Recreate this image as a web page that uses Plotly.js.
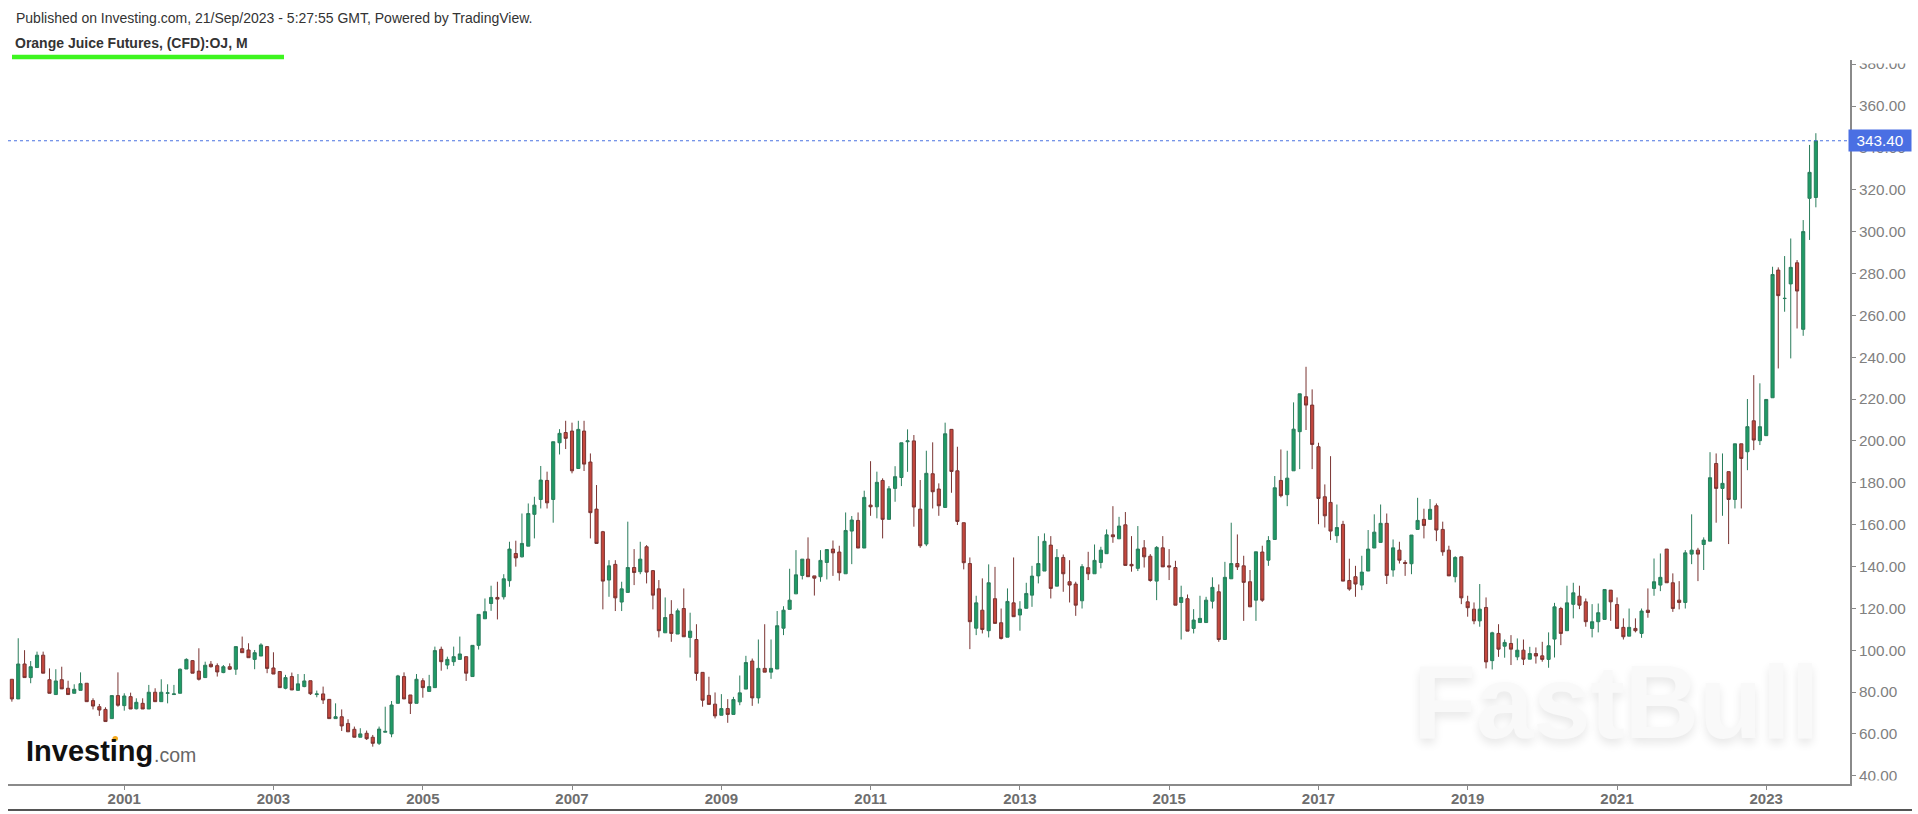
<!DOCTYPE html>
<html>
<head>
<meta charset="utf-8">
<title>Orange Juice Futures</title>
<script src="https://cdn.plot.ly/plotly-3.0.1.min.js"></script>
<style>
  html, body { margin: 0; padding: 0; background: #fff; }
  #chart { width: 1918px; height: 814px; }
</style>
</head>
<body>
<div id="chart"></div>
<script>
const months = [
  "1999-07","1999-08","1999-09","1999-10","1999-11","1999-12",
  "2000-01","2000-02","2000-03","2000-04","2000-05","2000-06","2000-07","2000-08","2000-09","2000-10","2000-11","2000-12",
  "2001-01","2001-02","2001-03","2001-04","2001-05","2001-06","2001-07","2001-08","2001-09","2001-10","2001-11","2001-12",
  "2002-01","2002-02","2002-03","2002-04","2002-05","2002-06","2002-07","2002-08","2002-09","2002-10","2002-11","2002-12",
  "2003-01","2003-02","2003-03","2003-04","2003-05","2003-06","2003-07","2003-08","2003-09","2003-10","2003-11","2003-12",
  "2004-01","2004-02","2004-03","2004-04","2004-05","2004-06","2004-07","2004-08","2004-09","2004-10","2004-11","2004-12",
  "2005-01","2005-02","2005-03","2005-04","2005-05","2005-06","2005-07","2005-08","2005-09","2005-10","2005-11","2005-12",
  "2006-01","2006-02","2006-03","2006-04","2006-05","2006-06","2006-07","2006-08","2006-09","2006-10","2006-11","2006-12",
  "2007-01","2007-02","2007-03","2007-04","2007-05","2007-06","2007-07","2007-08","2007-09","2007-10","2007-11","2007-12",
  "2008-01","2008-02","2008-03","2008-04","2008-05","2008-06","2008-07","2008-08","2008-09","2008-10","2008-11","2008-12",
  "2009-01","2009-02","2009-03","2009-04","2009-05","2009-06","2009-07","2009-08","2009-09","2009-10","2009-11","2009-12",
  "2010-01","2010-02","2010-03","2010-04","2010-05","2010-06","2010-07","2010-08","2010-09","2010-10","2010-11","2010-12",
  "2011-01","2011-02","2011-03","2011-04","2011-05","2011-06","2011-07","2011-08","2011-09","2011-10","2011-11","2011-12",
  "2012-01","2012-02","2012-03","2012-04","2012-05","2012-06","2012-07","2012-08","2012-09","2012-10","2012-11","2012-12",
  "2013-01","2013-02","2013-03","2013-04","2013-05","2013-06","2013-07","2013-08","2013-09","2013-10","2013-11","2013-12",
  "2014-01","2014-02","2014-03","2014-04","2014-05","2014-06","2014-07","2014-08","2014-09","2014-10","2014-11","2014-12",
  "2015-01","2015-02","2015-03","2015-04","2015-05","2015-06","2015-07","2015-08","2015-09","2015-10","2015-11","2015-12",
  "2016-01","2016-02","2016-03","2016-04","2016-05","2016-06","2016-07","2016-08","2016-09","2016-10","2016-11","2016-12",
  "2017-01","2017-02","2017-03","2017-04","2017-05","2017-06","2017-07","2017-08","2017-09","2017-10","2017-11","2017-12",
  "2018-01","2018-02","2018-03","2018-04","2018-05","2018-06","2018-07","2018-08","2018-09","2018-10","2018-11","2018-12",
  "2019-01","2019-02","2019-03","2019-04","2019-05","2019-06","2019-07","2019-08","2019-09","2019-10","2019-11","2019-12",
  "2020-01","2020-02","2020-03","2020-04","2020-05","2020-06","2020-07","2020-08","2020-09","2020-10","2020-11","2020-12",
  "2021-01","2021-02","2021-03","2021-04","2021-05","2021-06","2021-07","2021-08","2021-09","2021-10","2021-11","2021-12",
  "2022-01","2022-02","2022-03","2022-04","2022-05","2022-06","2022-07","2022-08","2022-09","2022-10","2022-11","2022-12",
  "2023-01","2023-02","2023-03","2023-04","2023-05","2023-06","2023-07","2023-08","2023-09",
];

const opens = [
  86.1, 76.7, 93.4, 86.9, 91.7, 97.6,
  85.9, 78.8, 85.9, 81.8, 79.4, 80.8, 84.2, 75.9, 73, 71.7, 67.3, 78.3,
  73.5, 77.8, 72, 74.6, 71.9, 79.9, 75.4, 79.4, 78.8, 79.4, 91, 95,
  90, 86.9, 93.3, 92.6, 89.3, 92.1, 90.9, 100.7, 100.1, 95.6, 97.2, 101.7,
  91.5, 89.8, 81.8, 87.4, 80.8, 82.6, 85.4, 78.8, 79.1, 76.5, 67.3, 68.2,
  65, 62.2, 58.4, 60.3, 58.4, 55.5, 60.8, 60, 74.6, 87.4, 78.6, 74.6,
  85.4, 80.3, 82.1, 100.4, 92.9, 94.5, 95.6, 96.9, 87.4, 102.3, 115, 122.3,
  125.2, 125.5, 133.2, 146.2, 144.6, 149.7, 164.9, 172, 181.1, 172, 199.1, 204,
  204.7, 186.8, 204.7, 189.9, 167.4, 156.6, 133.5, 141, 123, 127.6, 139.5, 137.5,
  149.4, 138, 129.3, 108.3, 117.1, 107.7, 119.9, 106.1, 105.1, 89.4, 78.4, 74.2,
  68.9, 72.1, 69.3, 75.3, 81.4, 94.8, 77.2, 91.3, 89.5, 91, 110.5, 119.5,
  126.9, 135.7, 143.5, 135.5, 135.1, 141.9, 148.3, 146.9, 136.5, 156.9, 162, 148.8,
  169.3, 168.5, 181.1, 162.5, 177.3, 182.5, 199.6, 200, 167.4, 150.7, 184.3, 177,
  168.2, 205.5, 185.7, 160.9, 141.4, 110.5, 119.1, 109.3, 124.6, 113.1, 106.2, 122.6,
  116.8, 120, 126.3, 135.5, 137.8, 150.2, 130.6, 144.3, 132.7, 131.6, 123.6, 139.4,
  136.5, 141.9, 146.1, 155.1, 153.2, 159.9, 141, 139.1, 148.9, 144.9, 133, 148.9,
  140.3, 139.5, 122.8, 124.6, 110.4, 113.2, 113.2, 123.4, 127.9, 105.1, 134.1, 141.4,
  140.3, 132.7, 123.9, 146.9, 143, 152.9, 181.1, 174.3, 185.7, 204.4, 221.1, 217.1,
  197.2, 173.3, 170.6, 154.7, 160.1, 133.3, 135.1, 131.1, 137.8, 148.8, 151.5, 160.6,
  138.3, 147.8, 141.9, 141.3, 157.7, 162.5, 162.5, 169, 157.7, 147.8, 135.1, 144.6,
  123.1, 119.6, 114, 120.4, 95, 108, 101.9, 103.2, 96.8, 100, 95.7, 98.4,
  97.3, 95.6, 105.3, 119.9, 109.3, 121.9, 125.8, 123.1, 110.4, 113.6, 114.7, 128.7,
  121.8, 110.9, 106.7, 110.4, 108, 119.1, 129.5, 131.1, 148.3, 132.2, 123.9, 122.8,
  145.9, 147.8, 150.5, 152.1, 189.2, 177.3, 185.3, 172, 198.6, 194.8, 209.6, 200.1,
  202.5, 220.6, 281.6, 268, 275, 285.1, 253.3, 315.9, 316.3,
];

const highs = [
  86.1, 105.7, 100, 94.8, 99.3, 99.3,
  91.3, 90.9, 92.1, 85.4, 83.7, 89.4, 84.2, 77, 74.3, 72.7, 78.3, 89.4,
  79.4, 79.7, 77, 77, 83.4, 81.8, 86.1, 83.7, 83.4, 91.3, 96.1, 95.3,
  100.9, 94.5, 94.8, 93.7, 92.9, 93.7, 101.7, 106.5, 103.3, 100.1, 103.3, 102,
  99, 89.8, 88.2, 89.3, 88.6, 88.6, 85.4, 80.7, 82.6, 76.5, 74.6, 71.7,
  67, 63.5, 62.7, 61.6, 59.5, 63.5, 73, 75.7, 88.2, 89.4, 78.6, 88.6,
  86.6, 88.2, 101.7, 101.7, 96.9, 101.7, 106.5, 96.9, 102.3, 117.1, 124.7, 130.8,
  132.7, 136.3, 151.8, 152.3, 165.3, 170.1, 173.3, 188, 185.3, 199.6, 205.6, 209.6,
  208.7, 209.6, 209.6, 194, 178.9, 157, 143, 143, 132.7, 161.4, 148.3, 151.8,
  150.2, 138.3, 133.5, 125.2, 123.9, 119.9, 129.5, 117.9, 112.4, 89.4, 87.3, 79.8,
  79, 76.6, 77.7, 87.9, 97.3, 96, 105.1, 112.4, 105.1, 118.7, 121, 138.9,
  147.8, 143.5, 153.9, 135.5, 147.8, 148.1, 152.4, 149.9, 165.8, 164.1, 165.8, 176.2,
  190.3, 185.3, 182.1, 178.4, 187.9, 199.1, 205.5, 202.8, 181.3, 195.3, 199.3, 179.7,
  208.7, 205.5, 197.2, 160.9, 144.3, 126, 134.3, 141, 139.8, 119.9, 129.5, 144.3,
  123.4, 132.2, 140.3, 154.5, 155.8, 154.5, 148.3, 145.7, 143, 132.7, 141.1, 147,
  150.5, 149.4, 157.7, 168.8, 163.7, 166, 154.5, 159.3, 152.6, 145.9, 149.7, 154.5,
  148.3, 142.7, 130.8, 126.6, 119.6, 126, 125.5, 134.8, 131.4, 142.2, 160.9, 155.3,
  145.1, 138.3, 147, 149.9, 154.5, 183.2, 195.9, 195.3, 218.4, 222.5, 235.4, 224.6,
  199.1, 179.2, 192.7, 169.6, 161.8, 143.7, 140.3, 145.1, 157.4, 164.9, 169.6, 165.3,
  152.9, 151.8, 143, 155, 172.8, 167.6, 172.2, 170.1, 161.4, 149.9, 144.9, 144.6,
  126, 122.8, 131.6, 125.2, 108.8, 112.4, 105.1, 107.2, 105.6, 105.1, 101.6, 101.3,
  104, 108.5, 122.6, 120.7, 130.8, 132.2, 130.8, 124.7, 122, 122.3, 129, 128.7,
  125.2, 115.2, 119.9, 115.2, 119.9, 129.5, 143.8, 146.2, 148.3, 136.7, 133, 147.8,
  164.9, 148.9, 153.9, 194.6, 194, 194, 185.3, 198.6, 198.6, 220, 231.4, 227.5,
  219.8, 283.2, 282.9, 288.3, 296.7, 286.4, 305.5, 341.4, 347,
];

const lows = [
  75.4, 76.7, 86.9, 84.2, 91.7, 89,
  79.4, 78.8, 81.5, 78.8, 79.4, 80.8, 75.4, 71.7, 68.6, 65.9, 67.3, 73,
  71.1, 71.9, 71.7, 71.9, 71.9, 75.4, 75.4, 74.6, 78.8, 79.4, 91, 89,
  85.5, 86.9, 91.7, 87.4, 89, 90.5, 88.2, 98.8, 96.4, 90.9, 97.2, 89,
  88.6, 82.1, 81.3, 81, 80.8, 82.3, 78.6, 77.5, 74.3, 67.3, 67.3, 61.4,
  61, 58.4, 58.4, 57.1, 53.9, 54.7, 60.8, 58.4, 74.6, 76.7, 69.5, 74.6,
  77.3, 80.3, 82.1, 90.2, 90.9, 92.5, 95.6, 85.3, 87.4, 100.3, 115, 118.8,
  114.7, 124.2, 130.3, 139.9, 144.3, 149.7, 153.4, 167.7, 167.7, 160.9, 193.5, 196.1,
  184.5, 186.8, 185.6, 153.4, 151, 119.5, 125.5, 118.7, 118.7, 127.6, 131.1, 136.3,
  131.9, 119.5, 106.1, 108.3, 104, 107.7, 106.4, 96.5, 85.4, 73, 74.1, 67.4,
  68.9, 65.3, 69.3, 73.7, 81.4, 73.4, 74.5, 89.5, 86.3, 91, 107.2, 119.5,
  126.9, 133.8, 135.1, 126.1, 132.7, 133.8, 135.5, 133.2, 136.5, 141.1, 148.8, 148.8,
  164.2, 163, 153.4, 162.5, 170.9, 178.4, 185.2, 159, 148.9, 149.7, 167.7, 164.2,
  168.2, 175.2, 159.8, 138.6, 100.5, 107.2, 108, 106.1, 112.8, 105.1, 106.2, 116,
  109.3, 120, 120.7, 131.9, 137.8, 124.7, 130.6, 127.9, 122.8, 116.4, 119.9, 133.5,
  136.5, 139.1, 146.1, 151.3, 153.2, 140.5, 137.5, 137.8, 139.5, 132.7, 123.9, 139.8,
  133.5, 121.5, 105.1, 109.1, 108, 113.2, 113.2, 119.9, 104, 105.1, 134.1, 138.3,
  114, 120.7, 114, 123.1, 140.3, 152.9, 173, 168.8, 185.7, 186.5, 205.2, 186.5,
  160.2, 158.6, 152.6, 151.3, 133, 128.4, 125.5, 128.7, 137.8, 148.8, 151.5, 131.6,
  135.1, 141.4, 135.5, 136.3, 157.7, 153.4, 162.5, 152.1, 145.1, 135.5, 132.4, 122,
  116, 112.4, 111.2, 91.3, 90.8, 96.8, 96.4, 92.9, 95.2, 92.9, 95.7, 93.6,
  94.5, 91.6, 96.5, 102.4, 109.3, 115.2, 119.6, 111.2, 106.1, 108.5, 114.7, 114,
  110.4, 105.1, 106.7, 108.5, 105.9, 115.5, 126, 128.2, 132.2, 118.3, 119.5, 119.9,
  141.1, 133, 138.3, 152.1, 160.9, 164.2, 150.7, 167.7, 167.7, 186, 195.6, 198,
  202.5, 220.6, 234.6, 261.7, 239.4, 253.7, 250.2, 296, 311.6,
];

const closes = [
  76.7, 93.4, 86.9, 92.1, 97.6, 89,
  79.4, 85.3, 81.5, 78.8, 81.3, 84, 75.4, 73.3, 71.4, 65.9, 78.3, 73.7,
  78.1, 71.9, 75.1, 71.9, 79.9, 75.4, 79.9, 79.6, 79.1, 90.9, 95.6, 89,
  86.1, 92.8, 92.1, 89.6, 92.1, 90.9, 101.7, 98.8, 96.4, 98.8, 102.5, 91.3,
  88.6, 82.1, 86.9, 81, 83.9, 85.3, 79.2, 79.1, 76.2, 67.3, 68.2, 63.8,
  61, 58.4, 60, 57.7, 55.5, 62.3, 61.2, 73.8, 87.7, 76.7, 74.6, 86.1,
  82.1, 82.6, 99.8, 94.5, 95.6, 96.9, 98.2, 89, 102.3, 117.1, 118.4, 125.2,
  124.4, 134.1, 148.3, 144.1, 151, 165.3, 169.3, 181.3, 170.4, 199.6, 203.6, 201.2,
  185.7, 205.5, 188.9, 165.7, 151, 133, 140.3, 125, 129.3, 139.5, 137.1, 143.5,
  137.3, 126.3, 109.3, 115.6, 108, 118.8, 106.4, 109.1, 88.9, 76.1, 74.1, 68.6,
  72.1, 69.3, 76.4, 79.6, 94.1, 77.2, 91.3, 89.5, 91.3, 111.7, 119.1, 123.9,
  136, 143.5, 135.1, 134.4, 142.9, 148.1, 146.5, 137, 157.2, 162.2, 148.8, 173,
  168.5, 180.2, 162.5, 177.1, 182.9, 199.1, 200, 168.4, 149.9, 184.5, 175.7, 169,
  203.4, 185.4, 161.5, 141.8, 113.6, 122.6, 109.9, 132.2, 112.8, 105.6, 123.3, 116,
  119.6, 127.1, 135.4, 141.4, 152, 129.5, 144.3, 136.5, 131.1, 121.5, 139.9, 136.5,
  142.9, 147.8, 155.1, 154.2, 159.3, 140.5, 140.3, 148.3, 144.6, 133.3, 149.1, 139.8,
  139.8, 121.5, 125.2, 109.1, 114.4, 115.2, 123.9, 130, 105.1, 134.8, 141.4, 139.8,
  132.4, 120.7, 147, 123.9, 152.4, 177.6, 173.8, 182.2, 205.6, 222.5, 217.1, 198.3,
  172.5, 164.2, 156.9, 158.6, 133, 129.2, 131.6, 137.3, 148.3, 156.4, 160.6, 135.7,
  148.9, 143, 141.4, 155, 162, 159.6, 167.3, 157.4, 147, 135.5, 144.3, 125,
  120.3, 114, 119.6, 94.4, 108.3, 100.5, 103.7, 100.5, 100, 95.7, 98.4, 97.2,
  95.6, 102.1, 120.7, 108, 122.6, 127.4, 121.5, 113.6, 113.6, 117.9, 129, 123.1,
  110.4, 106.4, 110.9, 109.3, 118.7, 118, 132.7, 134.8, 132.2, 119.9, 122.8, 146.5,
  147.8, 145.9, 152.6, 182.4, 177.3, 179.7, 172, 198.6, 191.6, 206.8, 200.4, 206.8,
  219.8, 279.5, 269.4, 268.1, 282.9, 271.6, 300, 328.3, 343.4,
];

const priceTicks = [40, 60, 80, 100, 120, 140, 160, 180, 200, 220, 240, 260, 280, 300, 320, 340, 360, 380];
const yearTicks = ["2001-01-01", "2003-01-01", "2005-01-01", "2007-01-01", "2009-01-01", "2011-01-01", "2013-01-01", "2015-01-01", "2017-01-01", "2019-01-01", "2021-01-01", "2023-01-01"];
const yearLabels = ["2001", "2003", "2005", "2007", "2009", "2011", "2013", "2015", "2017", "2019", "2021", "2023"];
const lastPrice = 343.4;

// plot box in page pixels, everything outside the axes is placed from these
const box = { left: 8, right: 1850, top: 60, bottom: 784 };
const paperX = (px) => (px - box.left) / (box.right - box.left);
const paperY = (py) => (box.bottom - py) / (box.bottom - box.top);
const FONT = "Arial, 'Liberation Sans', sans-serif";

function pageText(text, px, py, size, color) {
  return {
    text,
    xref: "paper",
    yref: "paper",
    x: paperX(px),
    y: paperY(py),
    xanchor: "left",
    yanchor: "middle",
    showarrow: false,
    font: { family: FONT, size, color },
  };
}

function pageLine(x0, y0, x1, y1, color, width) {
  return {
    type: "line",
    xref: "paper",
    yref: "paper",
    x0: paperX(x0),
    y0: paperY(y0),
    x1: paperX(x1),
    y1: paperY(y1),
    line: { color, width },
  };
}

// blank white patch, the reference cuts the first and last price label at the axis ends
function labelMask(py, height) {
  return {
    ...pageText(" ", 1857, py, 10, "#ffffff"),
    bgcolor: "#ffffff",
    width: 58,
    height,
  };
}

const data = [
  {
    type: "candlestick",
    x: months,
    open: opens,
    high: highs,
    low: lows,
    close: closes,
    whiskerwidth: 0,
    increasing: { line: { color: "#2a7d5c", width: 1 }, fillcolor: "#1f9b66" },
    decreasing: { line: { color: "#7a3432", width: 1 }, fillcolor: "#c4473d" },
    showlegend: false,
    hoverinfo: "skip",
  },
];

const layout = {
  width: 1918,
  height: 814,
  paper_bgcolor: "#ffffff",
  plot_bgcolor: "#ffffff",
  margin: { l: box.left, r: 1918 - box.right, t: box.top, b: 814 - box.bottom, pad: 0 },
  showlegend: false,
  boxgap: 0.22,
  xaxis: {
    type: "date",
    range: ["1999-06-12", "2024-02-15"],
    tickmode: "array",
    tickvals: yearTicks,
    ticktext: yearLabels.map((label) => `<b>${label}</b>`),
    ticks: "outside",
    ticklen: 4,
    tickcolor: "#888888",
    ticklabelstandoff: -4,
    tickfont: { family: FONT, size: 15, color: "#6e6e6e" },
    showgrid: false,
    zeroline: false,
    showline: true,
    linecolor: "#8a8a8a",
    linewidth: 2,
    rangeslider: { visible: false },
  },
  yaxis: {
    side: "right",
    range: [36.06, 381.98],
    tickmode: "array",
    tickvals: priceTicks,
    ticktext: priceTicks.map((tick) => tick.toFixed(2)),
    ticks: "outside",
    ticklen: 4,
    tickcolor: "#888888",
    tickfont: { family: FONT, size: 15.3, color: "#808080" },
    showgrid: false,
    zeroline: false,
    showline: true,
    linecolor: "#8a8a8a",
    linewidth: 2,
  },
  shapes: [
    {
      type: "line",
      xref: "paper",
      yref: "y",
      x0: 0,
      x1: 1,
      y0: lastPrice,
      y1: lastPrice,
      line: { color: "#4a72e0", width: 1, dash: "dot" },
    },
    pageLine(12, 57, 284, 57, "#3df51f", 4.5),
    pageLine(8, 810, 1912, 810, "#555555", 2),
    {
      type: "circle",
      xref: "paper",
      yref: "paper",
      x0: paperX(112.5),
      x1: paperX(118),
      y0: paperY(741),
      y1: paperY(736),
      fillcolor: "#f5a81c",
      line: { width: 0 },
    },
  ],
  annotations: [
    labelMask(55, 14),
    labelMask(788, 12),
    pageText("Published on Investing.com, 21/Sep/2023 - 5:27:55 GMT, Powered by TradingView.", 14, 18, 14, "#333333"),
    pageText("<b>Orange Juice Futures, (CFD):OJ, M</b>", 13, 43, 14, "#333333"),
    pageText("<b>Investing</b>", 24, 751, 29, "#111111"),
    pageText(".com", 152, 755, 19.5, "#666666"),
    {
      ...pageText("<b>FastBull</b>", 1411, 702, 103, "#f9f9f9"),
      font: { family: FONT, size: 103, color: "#f9f9f9", shadow: "0px 5px 10px #e8e8e8" },
    },
    {
      text: "343.40",
      xref: "paper",
      yref: "y",
      x: 1,
      y: lastPrice,
      xanchor: "left",
      yanchor: "middle",
      xshift: -2,
      showarrow: false,
      bgcolor: "#4a6fe3",
      width: 60,
      height: 19,
      align: "center",
      font: { family: FONT, size: 15.3, color: "#ffffff" },
    },
  ],
};

Plotly.newPlot("chart", data, layout, { displayModeBar: false, staticPlot: true });
</script>
</body>
</html>
